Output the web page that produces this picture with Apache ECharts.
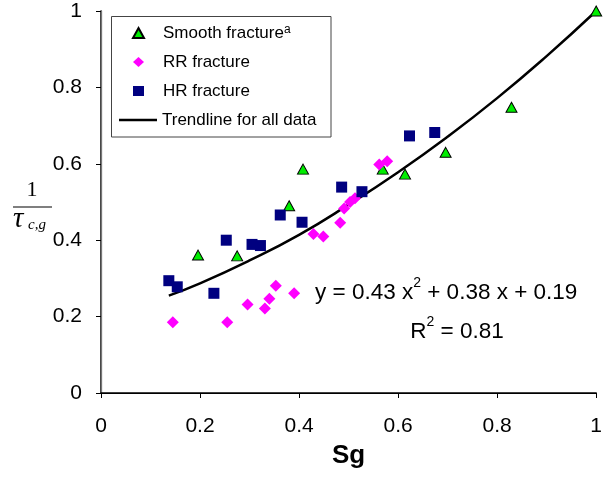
<!DOCTYPE html>
<html><head><meta charset="utf-8">
<script src="https://cdn.jsdelivr.net/npm/echarts@6/dist/echarts.min.js"></script>
<style>html,body{margin:0;padding:0;background:#fff}#c{width:605px;height:478px}</style>
</head><body><div id="c"></div>
<script>
// Data
const smoothX = [0.196, 0.275, 0.380, 0.408, 0.569, 0.614, 0.696, 0.829, 1.000];
const smoothY = [0.361, 0.359, 0.490, 0.586, 0.586, 0.573, 0.630, 0.748, 1.000];
const rrX = [0.145, 0.255, 0.296, 0.331, 0.340, 0.353, 0.390, 0.429, 0.449, 0.483, 0.491, 0.503, 0.513, 0.562, 0.578];
const rrY = [0.185, 0.185, 0.232, 0.221, 0.247, 0.281, 0.261, 0.416, 0.410, 0.446, 0.483, 0.500, 0.510, 0.598, 0.607];
const hrX = [0.137, 0.154, 0.228, 0.253, 0.305, 0.322, 0.362, 0.406, 0.486, 0.527, 0.623, 0.674];
const hrY = [0.294, 0.278, 0.261, 0.400, 0.389, 0.386, 0.466, 0.447, 0.539, 0.527, 0.673, 0.682];
const trendX = [0.137, 0.200, 0.300, 0.400, 0.500, 0.600, 0.700, 0.800, 0.900, 1.000];
const trendY = [0.255, 0.287, 0.347, 0.414, 0.493, 0.578, 0.671, 0.772, 0.882, 1.000];
const seriesNames = ['Smooth fracture', 'RR fracture', 'HR fracture', 'Trendline for all data'];
const equationText = '{n|y = 0.43 x}{s|2}{n| + 0.38 x + 0.19}';
const r2Text = '{n|R}{s|2}{n| = 0.81}';

const zip = (xs, ys) => xs.map((x, i) => [x, ys[i]]);
const chart = echarts.init(document.getElementById('c'), null, {renderer: 'canvas'});
const FONT = 'Liberation Sans, Arial, sans-serif';
const SERIF = 'Liberation Serif, Times New Roman, serif';
const legendText = {fontFamily: FONT, fontSize: 17, color: '#000', lineHeight: 18,
  rich: {
    n: {fontFamily: FONT, fontSize: 17, color: '#000', lineHeight: 18},
    s: {fontFamily: FONT, fontSize: 12, color: '#000', lineHeight: 11, verticalAlign: 'top'}
  }};

chart.setOption({
  animation: false,
  backgroundColor: '#fff',
  grid: {left: 101, right: 8, top: 11, bottom: 85},
  legend: [{
    orient: 'vertical', left: 132, top: 24, padding: 0, itemGap: 11,
    itemWidth: 11, itemHeight: 10, z: 6,
    data: seriesNames.slice(0, 3),
    textStyle: Object.assign({padding: [0, 0, 0, 14]}, legendText),
    formatter: name => name === 'Smooth fracture' ? '{n|Smooth fracture}{s|a}' : '{n|' + name + '}'
  }, {
    orient: 'vertical', left: 119, top: 111, padding: 0,
    itemWidth: 38, itemHeight: 2.5, z: 6,
    data: [{name: seriesNames[3], icon: 'rect'}],
    textStyle: legendText
  }],
  xAxis: [{
    type: 'value', min: 0, max: 1, interval: 0.2,
    axisLine: {show: true, lineStyle: {color: '#000', width: 1.5}},
    axisTick: {show: true, length: 5, lineStyle: {color: '#000'}},
    axisLabel: {fontFamily: FONT, fontSize: 21, color: '#000', margin: 23},
    splitLine: {show: false},
    name: 'Sg', nameLocation: 'middle', nameGap: 50,
    nameTextStyle: {fontFamily: FONT, fontSize: 26, fontWeight: 'bold', color: '#000'}
  }, {
    type: 'value', min: 0, max: 1, position: 'top',
    axisLine: {show: true, lineStyle: {color: '#000', width: 1}},
    axisTick: {show: false}, axisLabel: {show: false}, splitLine: {show: false}
  }],
  yAxis: [{
    type: 'value', min: 0, max: 1, interval: 0.2,
    axisLine: {show: true, lineStyle: {color: '#000', width: 1.5}},
    axisTick: {show: true, length: 5, lineStyle: {color: '#000'}},
    axisLabel: {fontFamily: FONT, fontSize: 21, color: '#000', margin: 19},
    splitLine: {show: false}
  }, {
    type: 'value', min: 0, max: 1, position: 'right',
    axisLine: {show: true, lineStyle: {color: '#777', width: 1.3}},
    axisTick: {show: false}, axisLabel: {show: false}, splitLine: {show: false}
  }],
  series: [
    {name: seriesNames[3], type: 'line', smooth: true, symbol: 'none', data: zip(trendX, trendY),
     lineStyle: {color: '#000', width: 2.5}, itemStyle: {color: '#000'}, z: 2},
    {name: seriesNames[0], type: 'scatter', symbol: 'triangle', symbolSize: [11, 10], data: zip(smoothX, smoothY),
     itemStyle: {color: '#00ee00', borderColor: '#000', borderWidth: 1, opacity: 1}, z: 3},
    {name: seriesNames[1], type: 'scatter', symbol: 'diamond', symbolSize: 12, data: zip(rrX, rrY),
     itemStyle: {color: '#ff00ff', opacity: 1}, z: 3},
    {name: seriesNames[2], type: 'scatter', symbol: 'rect', symbolSize: 11, data: zip(hrX, hrY),
     itemStyle: {color: '#000080', opacity: 1}, z: 3}
  ],
  graphic: [
    {type: 'rect', z: 5, shape: {x: 111.5, y: 16.5, width: 219.5, height: 120.5},
     style: {fill: '#fff', stroke: '#444', lineWidth: 1}},
    {type: 'text', x: 32, y: 190, style: {text: '1', font: '22px ' + SERIF, fill: '#000', align: 'center', verticalAlign: 'middle'}},
    {type: 'line', shape: {x1: 13, y1: 207, x2: 52, y2: 207}, style: {stroke: '#000', lineWidth: 1.2}},
    {type: 'text', x: 13, y: 219, style: {text: 'τ', font: 'italic 29px ' + SERIF, fill: '#000', align: 'left', verticalAlign: 'middle'}},
    {type: 'text', x: 28, y: 225, style: {text: 'c,g', font: 'italic 15px ' + SERIF, fill: '#000', align: 'left', verticalAlign: 'middle'}},
    {type: 'text', x: 315, y: 293, style: {text: equationText, align: 'left', verticalAlign: 'middle',
      rich: {n: {fontFamily: FONT, fontSize: 22.5, fill: '#000', lineHeight: 34},
             s: {fontFamily: FONT, fontSize: 14, fill: '#000', lineHeight: 15, verticalAlign: 'top'}}}},
    {type: 'text', x: 457, y: 332, style: {text: r2Text, align: 'center', verticalAlign: 'middle',
      rich: {n: {fontFamily: FONT, fontSize: 22.5, fill: '#000', lineHeight: 34},
             s: {fontFamily: FONT, fontSize: 14, fill: '#000', lineHeight: 15, verticalAlign: 'top'}}}}
  ]
});
</script></body></html>
